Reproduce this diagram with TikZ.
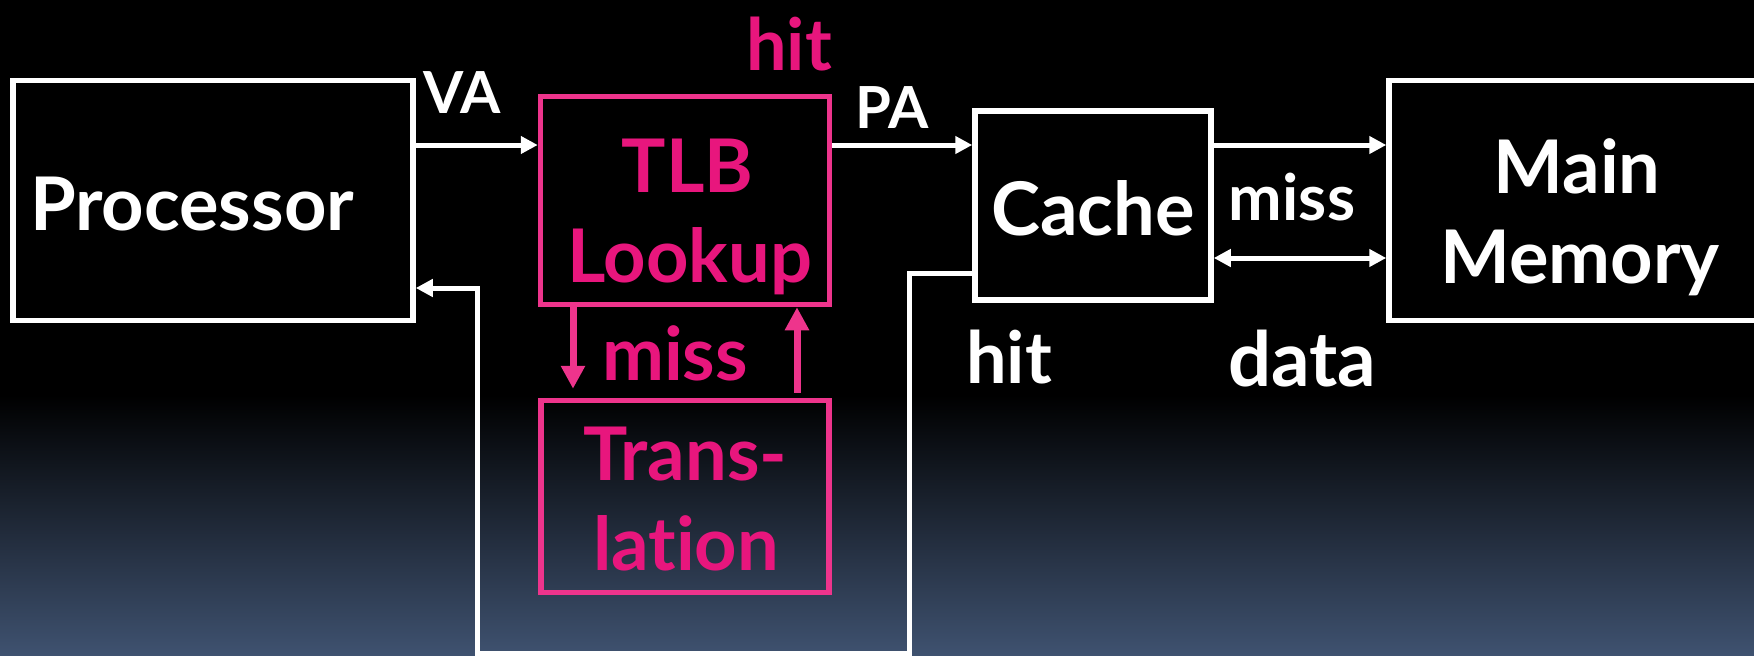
\documentclass[tikz,border=0pt]{standalone}
\usepackage{fontspec}
\setmainfont{Lato}[Ligatures=NoCommon]
\usetikzlibrary{arrows.meta}
\definecolor{pinkt}{RGB}{232,22,125}
\definecolor{pinkb}{RGB}{238,52,140}
\definecolor{bgbot}{RGB}{63,82,112}
\begin{document}
\begin{tikzpicture}[x=1pt,y=-1pt,
  wbox/.style={draw=white, line width=5.5pt, fill=black, inner sep=0pt},
  pbox/.style={draw=pinkb, line width=5.5pt, inner sep=0pt},
  btxt/.style={anchor=base, inner sep=0pt, font=\fontsize{74}{90}\selectfont\bfseries},
  ltxt/.style={anchor=base, inner sep=0pt, font=\fontsize{#1}{#1}\selectfont\bfseries},
  warr/.style={draw=white, line width=5pt, -{Triangle[length=17pt,width=17pt]}},
  wdarr/.style={draw=white, line width=5pt, {Triangle[length=17pt,width=17pt]}-{Triangle[length=17pt,width=17pt]}},
  parr/.style={draw=pinkb, line width=7pt, -{Triangle[length=23pt,width=23pt]}},
  wline/.style={draw=white, line width=5pt, line join=miter}
]
\useasboundingbox (0,0) rectangle (1754,656);
\fill[black] (0,0) rectangle (1754,656);
\shade[top color=black, bottom color=bgbot] (0,395) rectangle (1754,656);

% boxes
\node[wbox, minimum width=400pt, minimum height=240pt] (proc) at (213,200.5) {};
\node[pbox, fill=black, minimum width=289pt, minimum height=208pt] (tlb) at (685,200.5) {};
\node[pbox, minimum width=288pt, minimum height=192pt] (tr) at (685,496.5) {};
\node[wbox, minimum width=236pt, minimum height=189pt] (cache) at (1093,205.5) {};
\node[wbox, minimum width=382pt, minimum height=240pt] (mm) at (1580,200.5) {};

% box texts
\node[btxt, text=white] (proct) at (192,230) {Processor};
\node[btxt, text=pinkt] (tlbt1) at (687.5,192) {TLB};
\node[btxt, text=pinkt] (tlbt2) at (689.5,282) {Lookup};
\node[btxt, text=pinkt] (trt1) at (685.5,480) {Trans-};
\node[btxt, text=pinkt] (trt2) at (686,570) {lation};
\node[btxt, text=white] (cachet) at (1093,235) {Cache};
\node[btxt, text=white] (mmt1) at (1577,193) {Main};
\node[btxt, text=white] (mmt2) at (1580,283) {Memory};

% labels
\node[ltxt=58, text=white] (va) at (462,113) {VA};
\node[ltxt=72, text=pinkt] (hitp) at (789,70) {hit};
\node[ltxt=58, text=white] (pa) at (892,128) {PA};
\node[ltxt=64, text=white] (missw) at (1292,220) {miss};
\node[ltxt=72, text=white] (hitw) at (1009,383) {hit};
\node[ltxt=76, text=white] (data) at (1302,386) {data};
\node[ltxt=74, text=pinkt] (missp) at (675,380) {miss};

% helper coordinates
\coordinate (ytop) at (0,145);
\coordinate (ydata) at (0,258);
\coordinate (xdown) at (573,0);
\coordinate (xup) at (797,0);
\coordinate (h1) at (909,273);
\coordinate (h2) at (909,653);
\coordinate (h3) at (477,653);
\coordinate (h4) at (477,288);

% connectors
\draw[warr] (proc.east |- ytop) -- (tlb.west |- ytop);
\draw[warr] (tlb.east |- ytop) -- (cache.west |- ytop);
\draw[warr] (cache.east |- ytop) -- (mm.west |- ytop);
\draw[wdarr] (cache.east |- ydata) -- (mm.west |- ydata);
\draw[parr, shorten >=9pt] (tlb.south -| xdown) -- (tr.north -| xdown);
\draw[parr, shorten <=5pt] (tr.north -| xup) -- (tlb.south -| xup);
\draw[wline, -{Triangle[length=17pt,width=17pt]}] (cache.west |- h1) -- (h1) -- (h2) -- (h3) -- (h4) -- (proc.east |- h4);
\end{tikzpicture}
\end{document}
